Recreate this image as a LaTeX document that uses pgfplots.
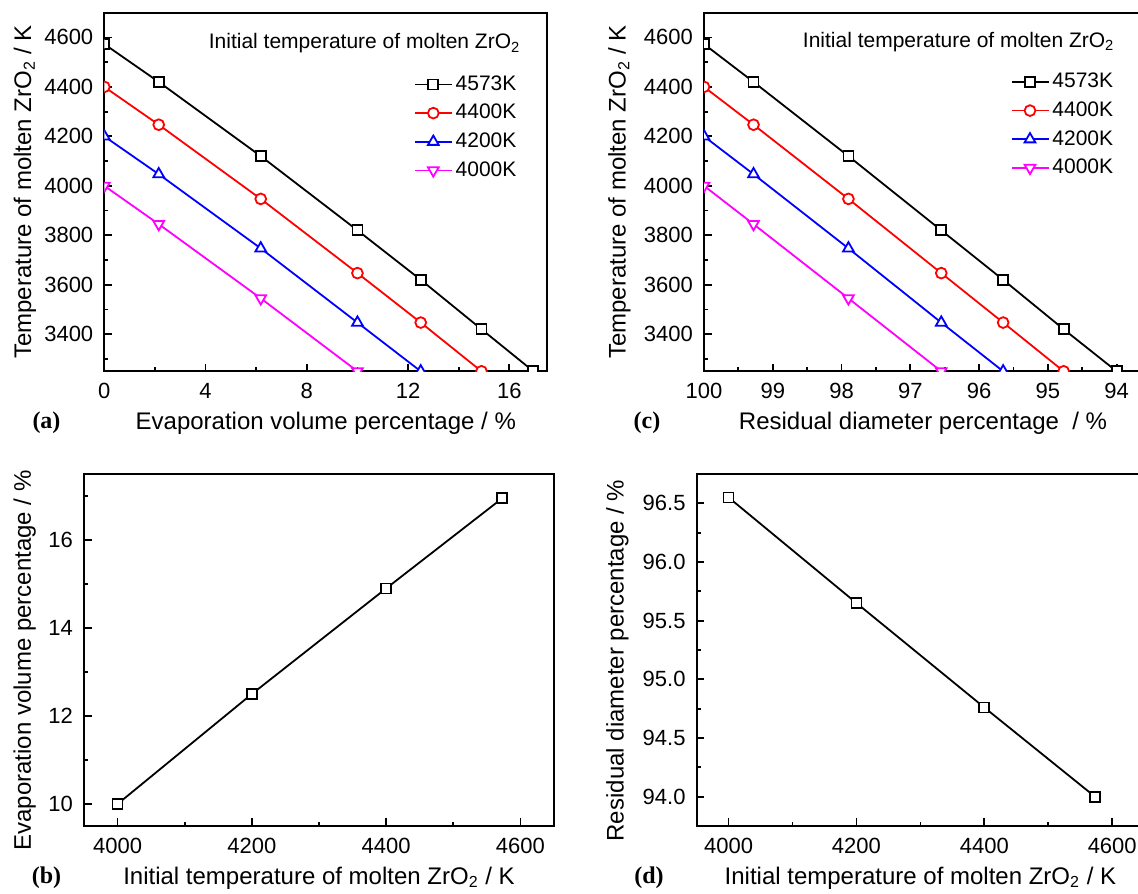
\documentclass[border=0pt]{standalone}
\usepackage{fontspec}
\setmainfont{Liberation Sans}
\newfontfamily\tnr{Liberation Serif}
\usepackage{pgfplots}
\pgfplotsset{compat=1.18}

\definecolor{cred}{RGB}{255,0,0}
\definecolor{cblu}{RGB}{0,0,255}
\definecolor{cmag}{RGB}{255,0,255}

\pgfplotsset{
  panel/.style={
    scale only axis,
    axis line style={line width=1pt},
    tick align=inside,
    xtick pos=bottom, ytick pos=left,
    major tick length=3.8pt, minor tick length=2pt,
    every tick/.style={black, line width=0.9pt},
    tick label style={font=\fontsize{11}{13}\selectfont},
    xticklabel style={yshift=-2.5pt},
    yticklabel style={xshift=-2pt},
    label style={font=\fontsize{12}{14}\selectfont},
    /pgf/number format/assume math mode=true,
    /pgf/number format/1000 sep={},
    scaled ticks=false,
    clip marker paths=true,
    every axis plot/.append style={line width=0.9pt},
    legend cell align=left,
    legend style={draw=none, fill=none, inner sep=0pt, font=\fontsize{10.5}{12}\selectfont,
      row sep=2.5pt, nodes={inner sep=1.5pt}},
    legend image code/.code={\draw[mark repeat=2,mark phase=2] plot coordinates {(0pt,0pt) (9.25pt,0pt) (18.5pt,0pt)};},
  },
  msq/.style={mark=square*, mark size=2.5pt, mark options={solid, fill=white}},
  mci/.style={mark=*, mark size=2.7pt, mark options={solid, fill=white}},
  mtr/.style={mark=triangle*, mark size=3.1pt, mark options={solid, fill=white}},
  mtd/.style={mark=triangle*, mark size=3.1pt, mark options={solid, fill=white, rotate=180}},
}

\begin{document}
\begin{tikzpicture}

% ---------- (a) ----------
\begin{axis}[panel, at={(52.15pt,260.85pt)}, anchor=south west,
  width=221.5pt, height=179.3pt,
  xmin=0, xmax=17.5, ymin=3250, ymax=4700,
  xtick={0,4,8,12,16}, minor xtick={2,6,10,14},
  ytick={3400,3600,3800,4000,4200,4400,4600},
  minor ytick={3300,3500,3700,3900,4100,4300,4500},
  xlabel={Evaporation volume percentage / \%},
  ylabel={Temperature of molten ZrO\textsubscript{2} / K},
  xlabel style={at={(axis description cs:0.5,-0.144)}, anchor=center},
  ylabel style={at={(axis description cs:-0.179,0.5)}, anchor=center},
  legend style={at={(0.698,0.834)}, anchor=north west},
]
\addplot[black, msq] coordinates {(0,4573) (2.15,4420) (6.18,4120) (10.0,3820) (12.5,3620) (14.9,3420) (16.95,3250)};
\addplot[cred, mci] coordinates {(0,4400) (2.15,4247) (6.18,3947) (10.0,3647) (12.5,3447) (14.9,3250)};
\addplot[cblu, mtr] coordinates {(0,4200) (2.15,4047) (6.18,3747) (10.0,3447) (12.5,3250)};
\addplot[cmag, mtd] coordinates {(0,4000) (2.15,3845) (6.18,3545) (10.0,3250)};
\legend{4573K,4400K,4200K,4000K}
\node[anchor=base east, inner sep=0pt, font=\fontsize{10.5}{12}\selectfont] at (rel axis cs:0.94,0.899) {Initial temperature of molten ZrO\textsubscript{2}};
\end{axis}

% ---------- (c) ----------
\begin{axis}[panel, at={(352pt,260.85pt)}, anchor=south west,
  width=223.5pt, height=179.3pt,
  x dir=reverse,
  xmin=93.5, xmax=100, ymin=3250, ymax=4700,
  xtick={94,95,96,97,98,99,100}, minor xtick={94.5,95.5,96.5,97.5,98.5,99.5},
  ytick={3400,3600,3800,4000,4200,4400,4600},
  minor ytick={3300,3500,3700,3900,4100,4300,4500},
  xlabel={Residual diameter percentage\ \ / \%},
  ylabel={Temperature of molten ZrO\textsubscript{2} / K},
  xlabel style={at={(axis description cs:0.49,-0.144)}, anchor=center},
  ylabel style={at={(axis description cs:-0.189,0.5)}, anchor=center},
  legend style={at={(0.685,0.841)}, anchor=north west},
]
\addplot[black, msq] coordinates {(100,4573) (99.28,4420) (97.90,4120) (96.55,3820) (95.65,3620) (94.77,3420) (94.0,3250)};
\addplot[cred, mci] coordinates {(100,4400) (99.28,4247) (97.90,3947) (96.55,3647) (95.65,3447) (94.77,3250)};
\addplot[cblu, mtr] coordinates {(100,4200) (99.28,4047) (97.90,3747) (96.55,3447) (95.65,3250)};
\addplot[cmag, mtd] coordinates {(100,4000) (99.28,3845) (97.90,3545) (96.55,3250)};
\legend{4573K,4400K,4200K,4000K}
\node[anchor=base east, inner sep=0pt, font=\fontsize{10.5}{12}\selectfont] at (rel axis cs:0.919,0.904) {Initial temperature of molten ZrO\textsubscript{2}};
\end{axis}

% ---------- (b) ----------
\begin{axis}[panel, at={(42pt,33.5pt)}, anchor=south west,
  width=235pt, height=176pt,
  xmin=3950, xmax=4650, ymin=9.5, ymax=17.5,
  xtick={4000,4200,4400,4600}, minor xtick={4100,4300,4500},
  ytick={10,12,14,16}, minor ytick={11,13,15,17},
  xlabel={Initial temperature of molten ZrO\textsubscript{2} / K},
  ylabel={Evaporation volume percentage / \%},
  xlabel style={at={(axis description cs:0.5,-0.148)}, anchor=center},
  ylabel style={at={(axis description cs:-0.126,0.47)}, anchor=center},
]
\addplot[black, msq] coordinates {(4000,10.0) (4200,12.5) (4400,14.9) (4573,16.95)};
\end{axis}

% ---------- (d) ----------
\begin{axis}[panel, at={(348.3pt,33.5pt)}, anchor=south west,
  width=223.8pt, height=176pt,
  xmin=3950, xmax=4650, ymin=93.75, ymax=96.75,
  xtick={4000,4200,4400,4600}, minor xtick={4100,4300,4500},
  ytick={94,94.5,95,95.5,96,96.5}, minor ytick={94.25,94.75,95.25,95.75,96.25},
  yticklabel style={/pgf/number format/.cd, fixed, fixed zerofill, precision=1},
  xlabel={Initial temperature of molten ZrO\textsubscript{2} / K},
  ylabel={Residual diameter percentage / \%},
  xlabel style={at={(axis description cs:0.5,-0.148)}, anchor=center},
  ylabel style={at={(axis description cs:-0.177,0.47)}, anchor=center},
]
\addplot[black, msq] coordinates {(4000,96.55) (4200,95.65) (4400,94.76) (4573,94.0)};
\end{axis}

% panel labels
\node[font=\tnr\bfseries\fontsize{12}{14}\selectfont] at (23.25pt,235pt) {(a)};
\node[font=\tnr\bfseries\fontsize{12}{14}\selectfont] at (323.5pt,235pt) {(c)};
\node[font=\tnr\bfseries\fontsize{12}{14}\selectfont] at (23.25pt,7.5pt) {(b)};
\node[font=\tnr\bfseries\fontsize{12}{14}\selectfont] at (324.5pt,7.5pt) {(d)};

\pgfresetboundingbox
\useasboundingbox (0,0) rectangle (569pt,446.5pt);
\end{tikzpicture}
\end{document}
